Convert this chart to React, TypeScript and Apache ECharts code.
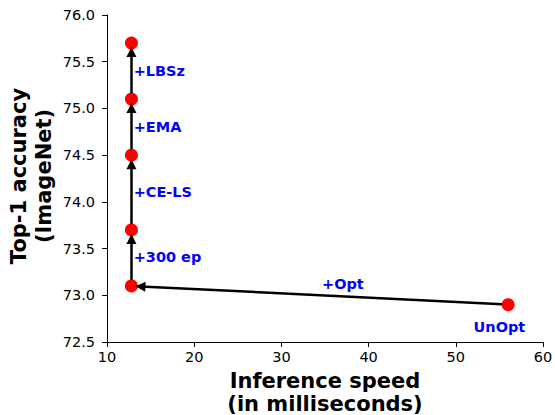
import React, { useEffect, useRef } from "react";
import * as echarts from "echarts";

// ---- data ----
const stepNames = ["UnOpt", "+Opt", "+300 ep", "+CE-LS", "+EMA", "+LBSz"];
const speedMs = [56, 12.8, 12.8, 12.8, 12.8, 12.8];
const top1 = [72.9, 73.1, 73.7, 74.5, 75.1, 75.7];
// annotation text anchors (data coords)
const labelX = [55.0, 34.6, 13.0, 13.0, 13.0, 13.0];
const labelY = [72.66, 73.12, 73.41, 74.11, 74.8, 75.4];

const X_MIN = 10, X_MAX = 60, X_STEP = 10;
const Y_MIN = 72.5, Y_MAX = 76.0, Y_STEP = 0.5;

const W = 555, H = 415;
const GRID = { left: 107, right: 12, top: 15, bottom: 73 };
const FONT = "DejaVu Sans";

export default function App() {
  const ref = useRef<HTMLDivElement>(null);
  useEffect(() => {
    if (!ref.current) return;
    const chart = echarts.init(ref.current, undefined, { renderer: "svg" });

    const pxX = (W - GRID.left - GRID.right) / (X_MAX - X_MIN);
    const pxY = (H - GRID.top - GRID.bottom) / (Y_MAX - Y_MIN);
    const headSize = 10;
    const startShrink = 6;
    const endShrink = 4 + headSize / 2;

    const arrows = [];
    for (let i = 0; i < speedMs.length - 1; i++) {
      const fx = speedMs[i], fy = top1[i];
      const tx = speedMs[i + 1], ty = top1[i + 1];
      const dxp = (tx - fx) * pxX;
      const dyp = (ty - fy) * pxY;
      const len = Math.sqrt(dxp * dxp + dyp * dyp);
      const ux = dxp / len, uy = dyp / len;
      arrows.push({
        coords: [
          [fx + (ux * startShrink) / pxX, fy + (uy * startShrink) / pxY],
          [tx - (ux * endShrink) / pxX, ty - (uy * endShrink) / pxY],
        ],
      });
    }

    const labelData = stepNames.map((n, i) => ({
      name: n,
      value: [labelX[i], labelY[i]],
      label: {
        position: i === 0 ? "inside" : "right",
        distance: 0,
      },
    }));

    chart.setOption({
      animation: false,
      grid: { ...GRID, containLabel: false, outerBoundsMode: "none" },
      xAxis: {
        type: "value",
        min: X_MIN,
        max: X_MAX,
        interval: X_STEP,
        name: "Inference speed\n(in milliseconds)",
        nameLocation: "middle",
        nameGap: 27,
        nameMoveOverlap: false,
        nameTextStyle: {
          fontFamily: FONT,
          fontWeight: "bold",
          fontSize: 21,
          lineHeight: 23,
          color: "#000",
        },
        axisLine: { show: true, lineStyle: { color: "#000", width: 1 } },
        axisTick: { show: true, length: 5, lineStyle: { color: "#000" } },
        axisLabel: { fontFamily: FONT, fontSize: 14.5, color: "#000", margin: 7 },
        splitLine: { show: false },
      },
      yAxis: {
        type: "value",
        min: Y_MIN,
        max: Y_MAX,
        interval: Y_STEP,
        name: "Top-1 accuracy\n(ImageNet)",
        nameLocation: "middle",
        nameRotate: 90,
        nameGap: 51,
        nameMoveOverlap: false,
        nameTextStyle: {
          fontFamily: FONT,
          fontWeight: "bold",
          fontSize: 21,
          lineHeight: 25,
          color: "#000",
          padding: [0, 0, 0, 5],
        },
        axisLine: { show: true, lineStyle: { color: "#000", width: 1 } },
        axisTick: { show: true, length: 5, lineStyle: { color: "#000" } },
        axisLabel: {
          fontFamily: FONT,
          fontSize: 14.5,
          color: "#000",
          margin: 12,
          formatter: (v: number) => v.toFixed(1),
        },
        splitLine: { show: false },
      },
      series: [
        {
          type: "scatter",
          data: speedMs.map((x, i) => [x, top1[i]]),
          symbolSize: 13,
          itemStyle: { color: "#ff0000", opacity: 1 },
          z: 2,
        },
        {
          type: "lines",
          coordinateSystem: "cartesian2d",
          data: arrows,
          symbol: ["none", "triangle"],
          symbolSize: headSize,
          lineStyle: { color: "#000", width: 2.5, opacity: 1, curveness: 0 },
          z: 3,
        },
        {
          type: "scatter",
          data: labelData,
          symbolSize: 1,
          itemStyle: { color: "rgba(0,0,0,0)", opacity: 1 },
          label: {
            show: true,
            formatter: (p: any) => p.name,
            fontFamily: FONT,
            fontWeight: "bold",
            fontSize: 14.5,
            color: "#0000ff",
            opacity: 1,
          },
          z: 4,
        },
      ],
    });
    return () => chart.dispose();
  }, []);
  return (
    <div
      ref={ref}
      style={{ position: "fixed", left: 0, top: 0, width: W, height: H, background: "#fff" }}
    />
  );
}
